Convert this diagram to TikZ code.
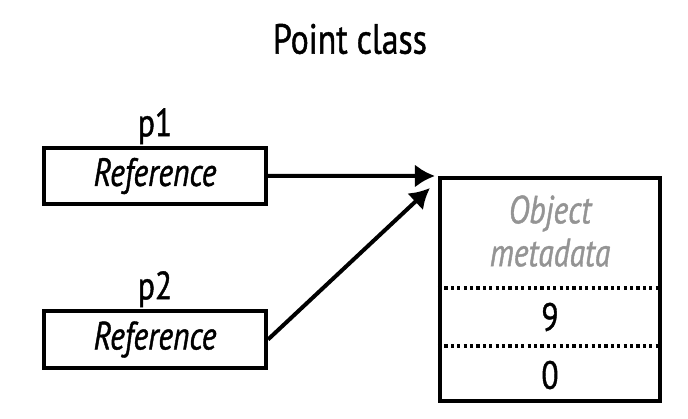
\documentclass[tikz,border=0pt]{standalone}
\usepackage{fontspec}
\setmainfont{PT Sans}[FakeStretch=0.8,FakeBold=1]
\usetikzlibrary{calc,positioning,arrows.meta,shapes}

\begin{document}
\begin{tikzpicture}[x=0.025cm,y=-0.025cm,
    font=\fontsize{28}{32}\selectfont,
    refbox/.style={draw,line width=0.1cm,minimum width=5.55cm,minimum height=1.4cm,inner sep=0pt,font=\fontsize{28}{32}\selectfont\itshape},
    ptr/.style={line width=0.1cm,-{Latex[length=0.5cm,width=0.58cm]}},
    sep/.style={line width=0.08cm,dash pattern=on 0.08cm off 0.08cm}]

\useasboundingbox (0,0) rectangle (688,419);

\node[font=\fontsize{30}{34}\selectfont] (title) at (350,39) {Point class};

%references
\node[refbox] (ref1) at (155,176) {Reference};
\node[refbox,minimum height=1.425cm] (ref2) at (155,339.5) {Reference};
\node[above=0.04cm of ref1,inner sep=0pt] (p1) {p1};
\node[above=0.04cm of ref2,inner sep=0pt] (p2) {p2};

%object
\node[draw,line width=0.1cm,minimum width=5.5cm,minimum height=5.575cm,inner sep=0pt] (obj) at (550,289.5) {};
\node[align=center,text=black!42,font=\fontsize{28}{30.5}\selectfont\itshape] (meta) at (550,231) {Object\\metadata};
\node (x) at (550,317) {9};
\node (y) at (550,375) {0};
\draw[sep] (obj.west |- 0,288) -- (obj.east |- 0,288);
\draw[sep] (obj.west |- 0,346) -- (obj.east |- 0,346);

\coordinate (tip2) at ($(obj.north west)+(-8,12)$);
\draw[ptr] (ref1.east) -- ($(obj.north west)+(-3,0)$);
\draw[ptr] (ref2.east) -- (tip2);

\end{tikzpicture}
\end{document}
